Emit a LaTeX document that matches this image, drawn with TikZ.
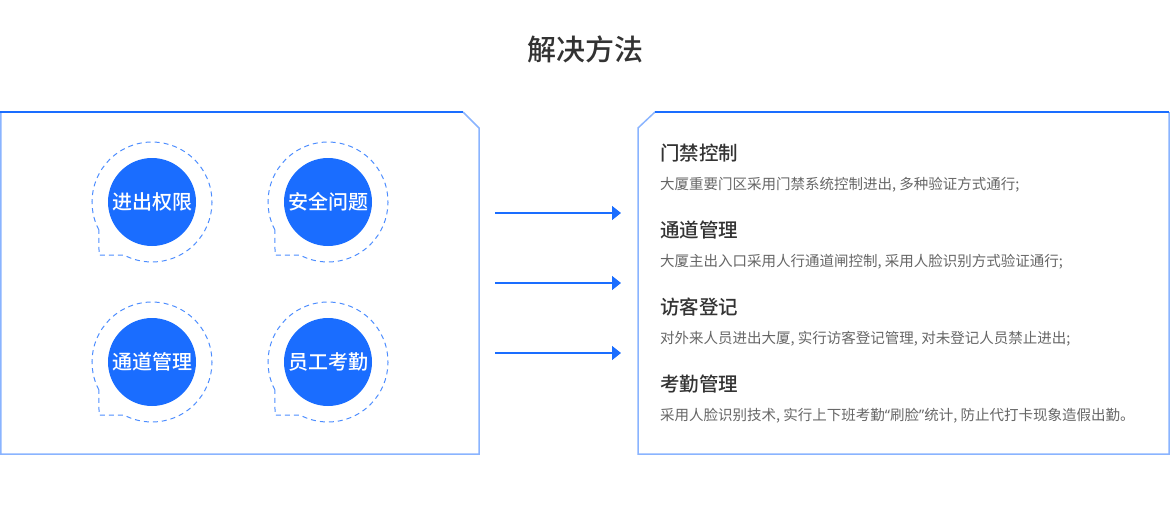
\documentclass[tikz,border=0pt]{standalone}
\usepackage{fontspec}
\setmainfont{Noto Sans CJK SC}
\newfontfamily\medfont{Noto Sans CJK SC Medium}
\newfontfamily\latinfont{Noto Sans}
\usetikzlibrary{arrows.meta}
\definecolor{mainblue}{HTML}{1A6DFF}
\definecolor{edgeblue}{HTML}{8AB4FF}
\definecolor{dashblue}{HTML}{4D8DFF}
\definecolor{headgray}{HTML}{333333}
\definecolor{descgray}{HTML}{666666}
\begin{document}
\begin{tikzpicture}[x=1pt, y=-1pt,
  bubble/.style={circle, fill=mainblue, minimum size=88pt, inner sep=0pt,
    text=white, font=\medfont\fontsize{20}{24}\selectfont},
  halo/.style={dashblue, line width=1pt, dash pattern=on 5pt off 4pt},
  heading/.style={anchor=west, inner sep=0pt, text=headgray, font=\medfont\fontsize{19.5}{24}\selectfont},
  desc/.style={anchor=west, inner sep=0pt, text=descgray, font=\fontsize{14.5}{17}\selectfont},
  flow/.style={mainblue, line width=1.3pt, -{Triangle[length=9pt, width=14pt]}}]
  \useasboundingbox (0,0) rectangle (1170,504);
  \node[text=headgray, font=\medfont\fontsize{29}{33}\selectfont] (title) at (585,49) {解决方法};
  % left panel
  \draw[edgeblue, line width=1.5pt] (463,112) -- (479,128) -- (479,454) -- (0.75,454) -- (0.75,112);
  \draw[mainblue, line width=1.5pt] (0,112) -- (463,112);
  % right panel
  \draw[edgeblue, line width=1.5pt] (655,112) -- (638,128) -- (638,454) -- (1169,454) -- (1169,112);
  \draw[mainblue, line width=1.5pt] (655,112) -- (1169,112);
  % topics
  \foreach \n/\x/\y/\t in {access/152/202/进出权限, safety/328/202/安全问题,
      passage/152/362/通道管理, staff/328/362/员工考勤} {
    \node[bubble] (\n) at (\x,\y) {\t};
    \draw[halo] (\n.center) ++(152.2:60) arc[start angle=152.2, end angle=477.8, radius=60]
      -- ++(-25,0) -- cycle;
  }
  % arrows
  \foreach \i/\y in {1/213, 2/283, 3/353} {
    \coordinate (from\i) at (495,\y);
    \coordinate (to\i) at (621,\y);
    \draw[flow] (from\i) -- (to\i);
  }
  % solutions
  \node[heading] (h1) at (660,153) {门禁控制};
  \node[desc] (d1) at (660,185) {大厦重要门区采用门禁系统控制进出, 多种验证方式通行;};
  \node[heading] (h2) at (660,230) {通道管理};
  \node[desc] (d2) at (660,262) {大厦主出入口采用人行通道闸控制, 采用人脸识别方式验证通行;};
  \node[heading] (h3) at (660,307) {访客登记};
  \node[desc] (d3) at (660,339) {对外来人员进出大厦, 实行访客登记管理, 对未登记人员禁止进出;};
  \node[heading] (h4) at (660,384) {考勤管理};
  \node[desc] (d4) at (660,416) {采用人脸识别技术, 实行上下班考勤{\latinfont “}刷脸{\latinfont ”}统计, 防止代打卡现象造假出勤。};
\end{tikzpicture}
\end{document}
